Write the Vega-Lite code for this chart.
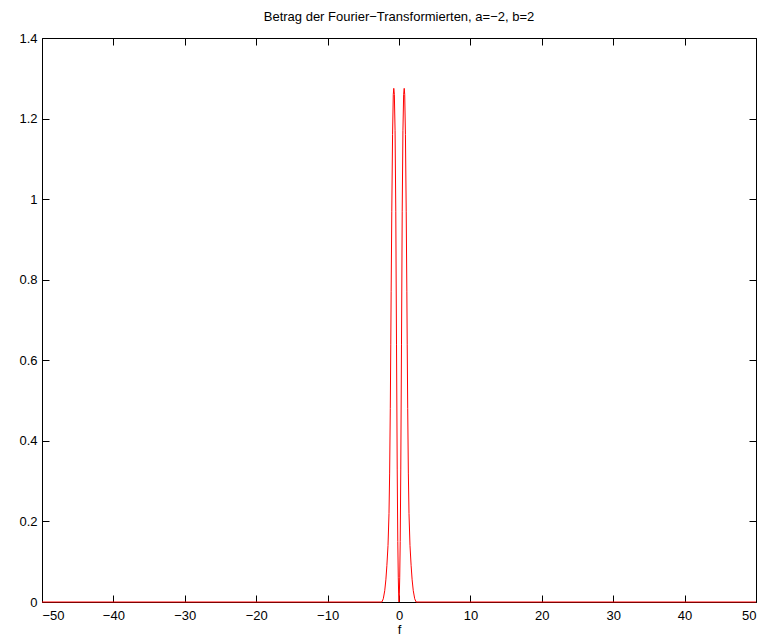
{
  "$schema": "https://vega.github.io/schema/vega-lite/v6.json",
  "width": 714,
  "height": 564,
  "autosize": {"type": "none"},
  "padding": {"left": 42, "top": 38, "right": 11, "bottom": 39},
  "background": "white",
  "title": {"text": "Betrag der Fourier−Transformierten, a=−2, b=2", "font": "Liberation Sans", "fontSize": 13, "fontWeight": "normal", "color": "black", "offset": 8},
  "config": {
    "view": {"stroke": null},
    "axis": {
      "grid": false,
      "domainColor": "black",
      "domainWidth": 1,
      "tickColor": "black",
      "tickWidth": 1,
      "tickSize": -7,
      "labelFont": "Liberation Sans",
      "labelFontSize": 13,
      "labelColor": "black",
      "titleFont": "Liberation Sans",
      "titleFontSize": 13,
      "titleFontWeight": "normal",
      "titleColor": "black"
    }
  },
  "data": {"values": [
    {"f": -50, "betrag": 0},
    {"f": -2.4, "betrag": 0},
    {"f": -2.2, "betrag": 0.008},
    {"f": -2.0, "betrag": 0.028},
    {"f": -1.84, "betrag": 0.055},
    {"f": -1.7, "betrag": 0.09},
    {"f": -1.54, "betrag": 0.14},
    {"f": -1.4, "betrag": 0.22},
    {"f": -1.31, "betrag": 0.32},
    {"f": -1.22, "betrag": 0.48},
    {"f": -1.15, "betrag": 0.64},
    {"f": -1.1, "betrag": 0.77},
    {"f": -1.01, "betrag": 0.97},
    {"f": -0.9, "betrag": 1.16},
    {"f": -0.8, "betrag": 1.26},
    {"f": -0.73, "betrag": 1.275},
    {"f": -0.65, "betrag": 1.26},
    {"f": -0.55, "betrag": 1.17},
    {"f": -0.45, "betrag": 0.97},
    {"f": -0.35, "betrag": 0.64},
    {"f": -0.25, "betrag": 0.33},
    {"f": -0.17, "betrag": 0.15},
    {"f": -0.1, "betrag": 0.06},
    {"f": -0.05, "betrag": 0.02},
    {"f": 0, "betrag": 0},
    {"f": 0.05, "betrag": 0.02},
    {"f": 0.1, "betrag": 0.06},
    {"f": 0.17, "betrag": 0.15},
    {"f": 0.25, "betrag": 0.33},
    {"f": 0.35, "betrag": 0.64},
    {"f": 0.45, "betrag": 0.97},
    {"f": 0.55, "betrag": 1.17},
    {"f": 0.65, "betrag": 1.26},
    {"f": 0.73, "betrag": 1.275},
    {"f": 0.8, "betrag": 1.26},
    {"f": 0.9, "betrag": 1.16},
    {"f": 1.01, "betrag": 0.97},
    {"f": 1.1, "betrag": 0.77},
    {"f": 1.15, "betrag": 0.64},
    {"f": 1.22, "betrag": 0.48},
    {"f": 1.31, "betrag": 0.32},
    {"f": 1.4, "betrag": 0.22},
    {"f": 1.54, "betrag": 0.14},
    {"f": 1.7, "betrag": 0.09},
    {"f": 1.84, "betrag": 0.055},
    {"f": 2.0, "betrag": 0.028},
    {"f": 2.2, "betrag": 0.008},
    {"f": 2.4, "betrag": 0},
    {"f": 50, "betrag": 0}
  ]},
  "layer": [
    {
      "mark": {"type": "line", "color": "#ff0000", "strokeWidth": 1},
      "encoding": {
        "x": {"field": "f", "type": "quantitative", "scale": {"domain": [-50, 50], "nice": false},
              "axis": {"orient": "bottom", "values": [-50, -40, -30, -20, -10, 0, 10, 20, 30, 40, 50], "title": "f", "labelPadding": 14, "titlePadding": 1}},
        "y": {"field": "betrag", "type": "quantitative", "scale": {"domain": [0, 1.4], "nice": false, "zero": false},
              "axis": {"orient": "left", "values": [0, 0.2, 0.4, 0.6, 0.8, 1, 1.2, 1.4], "format": "~g", "title": null, "labelPadding": 12}}
      }
    },
    {
      "mark": {"type": "line", "opacity": 0},
      "encoding": {
        "x": {"field": "f", "type": "quantitative", "scale": {"domain": [-50, 50], "nice": false},
              "axis": {"orient": "top", "values": [-50, -40, -30, -20, -10, 0, 10, 20, 30, 40, 50], "labels": false, "title": null}},
        "y": {"field": "betrag", "type": "quantitative", "scale": {"domain": [0, 1.4], "nice": false, "zero": false},
              "axis": {"orient": "right", "values": [0, 0.2, 0.4, 0.6, 0.8, 1, 1.2, 1.4], "labels": false, "title": null}}
      }
    }
  ],
  "resolve": {"axis": {"x": "independent", "y": "independent"}}
}
